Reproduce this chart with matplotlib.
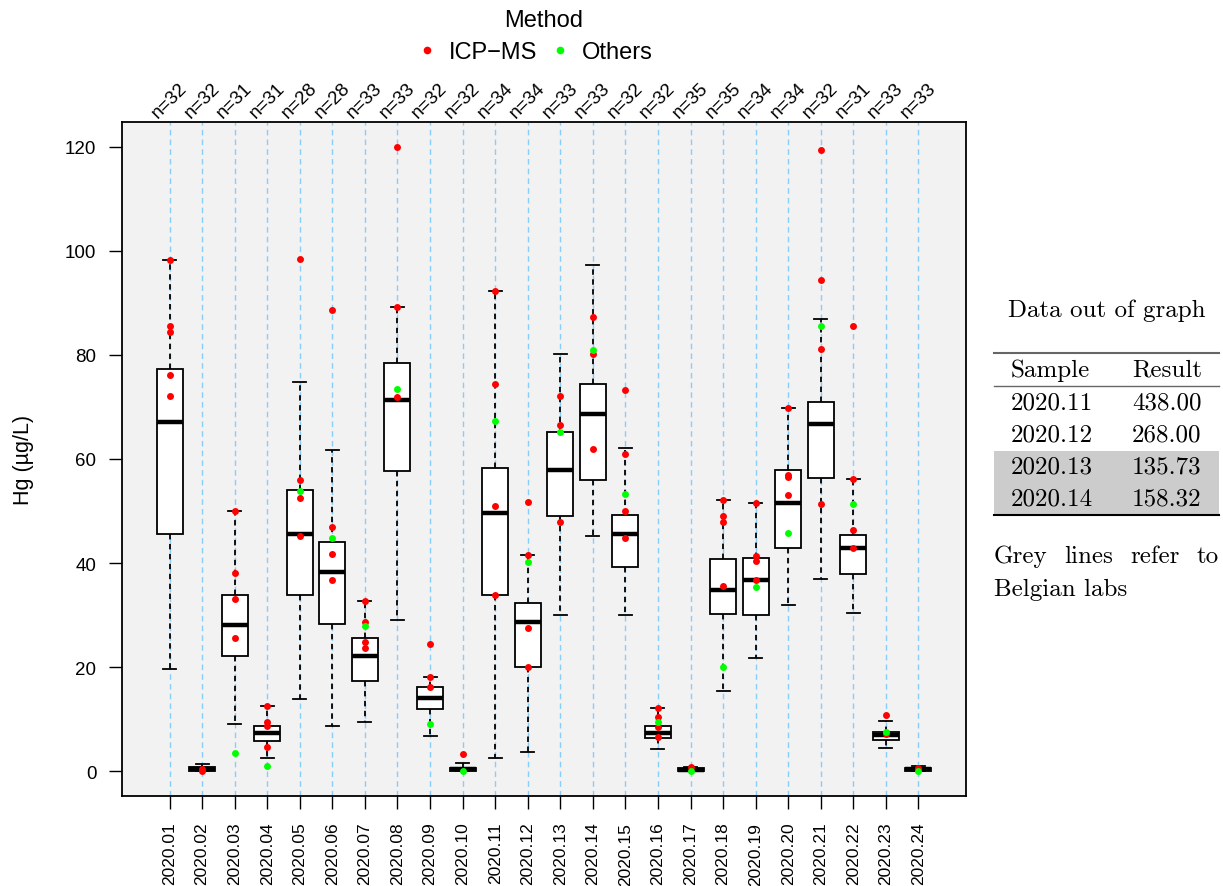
import numpy as np
import matplotlib
matplotlib.use("Agg")
import matplotlib.pyplot as plt
from matplotlib.lines import Line2D
from matplotlib.patches import Rectangle

plt.rcParams['font.family'] = ['Liberation Sans', 'DejaVu Sans']

# samples and counts
samples = ["2020.%02d" % i for i in range(1, 25)]
n_labs = [32, 32, 31, 31, 28, 28, 33, 33, 32, 32, 34, 34,
          33, 33, 32, 32, 35, 35, 34, 34, 32, 31, 33, 33]

# box statistics
whislo = [19.6, 0.0, 9.0, 2.6, 13.9, 8.6, 9.5, 29.1, 6.7, 0.0, 2.6, 3.6,
          30.0, 45.1, 30.0, 4.3, 0.0, 15.4, 21.8, 31.9, 36.9, 30.3, 4.4, 0.0]
q1 = [45.5, 0.0, 22.1, 5.7, 33.9, 28.2, 17.3, 57.6, 11.9, 0.0, 33.8, 20.0,
      49.0, 55.9, 39.2, 6.3, 0.0, 30.1, 30.0, 42.9, 56.3, 37.9, 6.0, 0.0]
med = [67.2, 0.3, 28.0, 7.4, 45.6, 38.2, 22.1, 71.4, 14.1, 0.3, 49.6, 28.6,
       57.9, 68.7, 45.5, 7.4, 0.2, 34.8, 36.8, 51.5, 66.7, 42.9, 7.0, 0.3]
q3 = [77.3, 0.7, 33.8, 8.6, 54.0, 44.1, 25.6, 78.4, 16.2, 0.6, 58.3, 32.3,
      65.2, 74.4, 49.3, 8.7, 0.5, 40.8, 41.0, 57.8, 71.0, 45.3, 7.5, 0.6]
whishi = [98.2, 1.3, 50.0, 12.5, 74.9, 61.8, 32.6, 89.2, 18.0, 1.5, 92.4, 41.5,
          80.1, 97.3, 62.2, 12.2, 0.8, 52.1, 51.6, 69.8, 87.0, 56.2, 9.6, 0.9]

# highlighted lab results per sample
icpms = [[98.2, 85.6, 84.5, 76.1, 72.2], [0.3, 0.1], [50.0, 38.0, 33.0, 25.5],
         [12.5, 9.5, 8.6, 4.7], [98.5, 56.0, 52.5, 45.1], [88.6, 46.9, 41.7, 36.7],
         [32.6, 28.6, 24.9, 23.6], [119.9, 89.2, 71.9], [24.4, 18.0, 16.2],
         [3.3], [92.4, 74.5, 50.9, 33.8], [51.7, 41.5, 27.5, 20.0],
         [72.1, 66.5, 47.9], [87.4, 80.1, 61.9], [73.3, 60.9, 50.0, 44.8],
         [12.2, 10.3, 8.4, 6.5], [0.7], [52.1, 49.0, 47.9, 35.6],
         [51.6, 41.4, 40.3, 36.7], [69.8, 57.0, 56.6, 53.0],
         [119.5, 94.5, 81.1, 51.4], [85.6, 56.2, 46.4, 42.9], [10.8, 7.1], [0.5]]
others = [[], [], [3.5], [1.0], [53.9], [44.8], [27.8], [73.5], [9.0], [0.0],
          [67.3], [40.2], [65.2], [81.0], [53.3], [9.5], [0.0], [20.0], [35.4],
          [45.7], [85.5], [51.3], [7.5], [0.0]]

# out of graph table
tab_samples = ["2020.11", "2020.12", "2020.13", "2020.14"]
tab_results = ["438.00", "268.00", "135.73", "158.32"]
tab_grey = [False, False, True, True]

W, H = 1223, 887
fig = plt.figure(figsize=(W / 100, H / 100), dpi=100)
ax = fig.add_axes([122 / W, 1 - 797 / H, (966 - 122) / W, (797 - 123) / H])
ax.set_facecolor('#F2F2F2')

pos = np.arange(1, len(samples) + 1)
for p in pos:
    ax.axvline(p, color='#87CEFA', ls=(0, (4, 3)), lw=1.0, zorder=0.5)

stats = [dict(med=med[i], q1=q1[i], q3=q3[i], whislo=whislo[i], whishi=whishi[i],
              label=samples[i]) for i in range(len(samples))]
ax.bxp(stats, positions=pos, widths=0.8, capwidths=0.4, showfliers=False,
       patch_artist=True,
       boxprops=dict(facecolor='white', edgecolor='black', linewidth=1.3),
       medianprops=dict(color='black', linewidth=3.2, solid_capstyle='butt'),
       whiskerprops=dict(color='black', linestyle=(0, (3, 2.5)), linewidth=1.3),
       capprops=dict(color='black', linewidth=1.3))

for i, p in enumerate(pos):
    ax.plot([p] * len(icpms[i]), icpms[i], 'o', color='red', ms=5, mec='none', zorder=5)
    ax.plot([p] * len(others[i]), others[i], 'o', color='#00FF00', ms=5, mec='none', zorder=5)

ax.set_xlim(-0.46, 25.46)
ax.set_ylim(-4.8, 124.8)
ax.set_yticks(range(0, 121, 20))
ax.set_xticks(pos, labels=samples, rotation=90)
ax.tick_params(axis='both', direction='out', length=9.5, width=1.0)
ax.tick_params(axis='y', labelsize=13.5, pad=9)
ax.tick_params(axis='x', labelsize=12.5, pad=9)
for s in ax.spines.values():
    s.set_linewidth(1.3)

top = ax.secondary_xaxis('top')
top.set_xticks(pos, labels=["n=%d" % n for n in n_labs])
top.tick_params(length=0, pad=1, labelsize=13.5)
for lbl in top.get_xticklabels():
    lbl.set_rotation(45)
    lbl.set_ha('center')
top.spines['top'].set_visible(False)

ax.set_ylabel("Hg (µg/L)", fontsize=15.5)
ax.yaxis.set_label_coords(-0.104, 0.5)

# legend
fx = lambda px: px / W
fy = lambda py: 1 - py / H
fig.text(fx(544), fy(21), "Method", fontsize=17, ha='center', va='center')
handles = [Line2D([], [], ls='none', marker='o', color='red', ms=5.5, mec='none'),
           Line2D([], [], ls='none', marker='o', color='#00FF00', ms=5.5, mec='none')]
fig.legend(handles, ["ICP\u2212MS", "Others"], loc='center',
           bbox_to_anchor=(fx(534), fy(53)), ncol=2, frameon=False, fontsize=17,
           handletextpad=0.4, columnspacing=0.5, handlelength=1.0,
           borderpad=0, borderaxespad=0)

# table on the right
tk = dict(family='cmr10', fontsize=18, va='baseline', ha='left')
fig.text(fx(1107), fy(317), "Data out of graph", **dict(tk, ha='center'))
fig.add_artist(Line2D([fx(994), fx(1219)], [fy(354), fy(354)], color='#666666', lw=1.5))
fig.text(fx(1011), fy(377), "Sample", **tk)
fig.text(fx(1132), fy(377), "Result", **tk)
fig.add_artist(Line2D([fx(994), fx(1219)], [fy(387), fy(387)], color='#666666', lw=1.0))
row_h = 32
for k, (smp, res) in enumerate(zip(tab_samples, tab_results)):
    top_y = 388 + k * row_h
    if tab_grey[k]:
        fig.add_artist(Rectangle((fx(994), fy(top_y + row_h)), fx(1219) - fx(994),
                                 row_h / H, color='#CCCCCC', lw=0, zorder=0))
    fig.text(fx(1011), fy(top_y + 21.5), smp, **tk)
    fig.text(fx(1132), fy(top_y + 21.5), res, **tk)
fig.add_artist(Line2D([fx(994), fx(1219)], [fy(516), fy(516)], color='black', lw=1.5))

# justified note
words = ["Grey", "lines", "refer", "to"]
renderer = fig.canvas.get_renderer()
wtexts = [fig.text(0, fy(563), w, **tk) for w in words]
widths = [t.get_window_extent(renderer).width for t in wtexts]
gap = (1219 - 994 - sum(widths)) / (len(words) - 1)
x = 994
for t, w in zip(wtexts, widths):
    t.set_x(fx(x))
    x += w + gap
fig.text(fx(994), fy(596), "Belgian labs", **tk)

fig.savefig("out.png", dpi=100)
